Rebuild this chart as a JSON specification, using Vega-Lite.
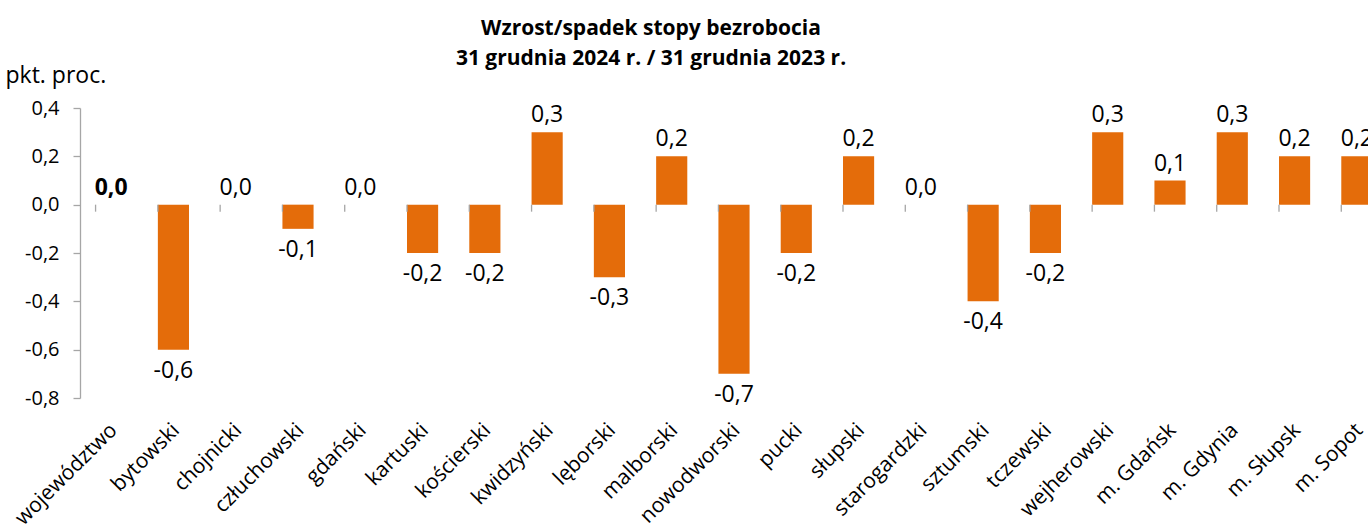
{
  "$schema": "https://vega.github.io/schema/vega-lite/v6.json",
  "width": 1288,
  "height": 290,
  "autosize": {"type": "none"},
  "padding": {"left": 80, "top": 108, "right": 0, "bottom": 126},
  "background": "white",
  "config": {
    "locale": {"number": {"decimal": ",", "thousands": " ", "grouping": [3], "currency": ["", " zł"], "minus": "-"}},
    "font": "Open Sans",
    "view": {"stroke": null}
  },
  "title": {
    "text": ["Wzrost/spadek stopy bezrobocia", "31 grudnia 2024 r. / 31 grudnia 2023 r."],
    "font": "Open Sans",
    "fontSize": 21,
    "fontWeight": "bold",
    "color": "#000000",
    "lineHeight": 30,
    "anchor": "middle",
    "dx": -73,
    "dy": 5,
    "offset": 0
  },
  "data": {
    "values": [
      {"name": "województwo", "value": 0.0},
      {"name": "bytowski", "value": -0.6},
      {"name": "chojnicki", "value": 0.0},
      {"name": "człuchowski", "value": -0.1},
      {"name": "gdański", "value": 0.0},
      {"name": "kartuski", "value": -0.2},
      {"name": "kościerski", "value": -0.2},
      {"name": "kwidzyński", "value": 0.3},
      {"name": "lęborski", "value": -0.3},
      {"name": "malborski", "value": 0.2},
      {"name": "nowodworski", "value": -0.7},
      {"name": "pucki", "value": -0.2},
      {"name": "słupski", "value": 0.2},
      {"name": "starogardzki", "value": 0.0},
      {"name": "sztumski", "value": -0.4},
      {"name": "tczewski", "value": -0.2},
      {"name": "wejherowski", "value": 0.3},
      {"name": "m. Gdańsk", "value": 0.1},
      {"name": "m. Gdynia", "value": 0.3},
      {"name": "m. Słupsk", "value": 0.2},
      {"name": "m. Sopot", "value": 0.2}
    ]
  },
  "encoding": {
    "x": {
      "field": "name",
      "type": "nominal",
      "sort": null,
      "scale": {"paddingInner": 0.5, "paddingOuter": 0.25, "range": [0, 1308]},
      "axis": {
        "title": null,
        "domain": false,
        "ticks": false,
        "labelAngle": -45,
        "labelAlign": "right",
        "labelBaseline": "top",
        "labelFont": "Open Sans",
        "labelFontSize": 21,
        "labelColor": "#000000",
        "labelPadding": 21,
        "labelOffset": -5,
        "labelOverlap": false
      }
    }
  },
  "layer": [
    {
      "mark": {"type": "bar", "color": "#E46C0A"},
      "encoding": {
        "y": {
          "field": "value",
          "type": "quantitative",
          "scale": {"domain": [-0.8, 0.4], "nice": false, "zero": false},
          "axis": {
            "values": [-0.8, -0.6, -0.4, -0.2, 0, 0.2, 0.4],
            "format": ".1f",
            "grid": false,
            "domainColor": "#A6A6A6",
            "domainWidth": 1.3,
            "tickColor": "#A6A6A6",
            "tickWidth": 1.3,
            "tickSize": 7,
            "labelPadding": 14,
            "labelFont": "Open Sans",
            "labelFontSize": 20,
            "labelColor": "#000000",
            "title": "pkt. proc.",
            "titleAngle": 0,
            "titleAlign": "left",
            "titleBaseline": "alphabetic",
            "titleX": -75,
            "titleY": -26,
            "titleFont": "Open Sans",
            "titleFontSize": 23,
            "titleFontWeight": "normal",
            "titleColor": "#000000"
          }
        }
      }
    },
    {
      "mark": {"type": "rule", "color": "#A6A6A6", "strokeWidth": 1.3},
      "encoding": {"y": {"datum": 0}}
    },
    {
      "mark": {"type": "rule", "color": "#A6A6A6", "strokeWidth": 1.3},
      "encoding": {
        "x": {"field": "name", "type": "nominal", "sort": null, "bandPosition": 0},
        "y": {"datum": 0},
        "y2": {"datum": -0.029}
      }
    },
    {
      "transform": [{"filter": "datum.value >= 0 && datum.name != 'województwo'"}],
      "mark": {"type": "text", "font": "Open Sans", "fontSize": 23, "color": "#000000", "baseline": "alphabetic", "dy": -10},
      "encoding": {
        "y": {"field": "value", "type": "quantitative"},
        "text": {"field": "value", "type": "quantitative", "format": ".1f"}
      }
    },
    {
      "transform": [{"filter": "datum.name == 'województwo'"}],
      "mark": {"type": "text", "font": "Open Sans", "fontSize": 23, "fontWeight": "bold", "color": "#000000", "baseline": "alphabetic", "dy": -10},
      "encoding": {
        "y": {"field": "value", "type": "quantitative"},
        "text": {"field": "value", "type": "quantitative", "format": ".1f"}
      }
    },
    {
      "transform": [{"filter": "datum.value < 0"}],
      "mark": {"type": "text", "font": "Open Sans", "fontSize": 23, "color": "#000000", "baseline": "alphabetic", "dy": 28},
      "encoding": {
        "y": {"field": "value", "type": "quantitative"},
        "text": {"field": "value", "type": "quantitative", "format": ".1f"}
      }
    }
  ]
}
